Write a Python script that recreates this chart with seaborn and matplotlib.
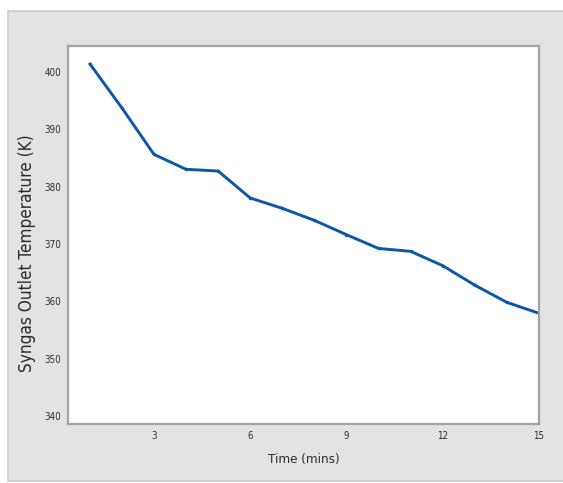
import matplotlib

matplotlib.use("Agg")

import matplotlib.pyplot as plt
import pandas as pd
import seaborn as sns
from matplotlib.patches import Rectangle

# values
time_mins = [1, 2, 3, 4, 5, 6, 7, 8, 9, 10, 11, 12, 13, 14, 15]
outlet_temp_k = [401.4, 393.7, 385.6, 383.0, 382.7, 378.0, 376.2, 374.1,
                 371.6, 369.2, 368.7, 366.2, 362.8, 359.8, 357.9]
x_ticks = [3, 6, 9, 12, 15]
y_ticks = [340, 350, 360, 370, 380, 390, 400]

LINE_COLOR = "#0b57a8"
SPINE_COLOR = "#a3a3a3"
TEXT_COLOR = "#2b2b2b"

sns.set_style("white")
plt.rcParams["font.family"] = ["DejaVu Sans"]
plt.rcParams["font.stretch"] = "condensed"

df = pd.DataFrame({"Time (mins)": time_mins, "Temperature": outlet_temp_k})

fig = plt.figure(figsize=(5.63, 4.83), dpi=100, facecolor="white")
# grey Minitab-style panel behind the plot
fig.patches.append(Rectangle((8 / 563, 2 / 483), 556 / 563, 470 / 483,
                             transform=fig.transFigure, facecolor="#e3e3e3",
                             edgecolor="#cdcdcd", linewidth=1.2, zorder=-10))
ax = fig.add_axes([68 / 563, 1 - 424 / 483, 471 / 563, 378 / 483])
ax.set_facecolor("white")
ax.set_zorder(1)

sns.lineplot(data=df, x="Time (mins)", y="Temperature", ax=ax,
             color=LINE_COLOR, linewidth=2.1, marker="o", markersize=2.5,
             markeredgewidth=0, markerfacecolor=LINE_COLOR)

ax.set_xlim(0.32, 15)
ax.set_ylim(338.6, 404.5)
ax.set_xticks(x_ticks)
ax.set_yticks(y_ticks)
ax.tick_params(axis="both", direction="out", length=3, width=1,
               color=SPINE_COLOR, labelcolor=TEXT_COLOR, labelsize=7, pad=2)
for spine in ax.spines.values():
    spine.set_color(SPINE_COLOR)
    spine.set_linewidth(1.6)

ax.set_xlabel("Time (mins)", fontsize=9.5, labelpad=9, color=TEXT_COLOR)
ax.set_ylabel("Syngas Outlet Temperature (K)", fontsize=12.3, color=TEXT_COLOR)
# the label sits a little below the axis middle in the original
ax.yaxis.set_label_coords(-0.068, 0.452)

fig.savefig("out.png", dpi=100, facecolor=fig.get_facecolor())
plt.close(fig)
